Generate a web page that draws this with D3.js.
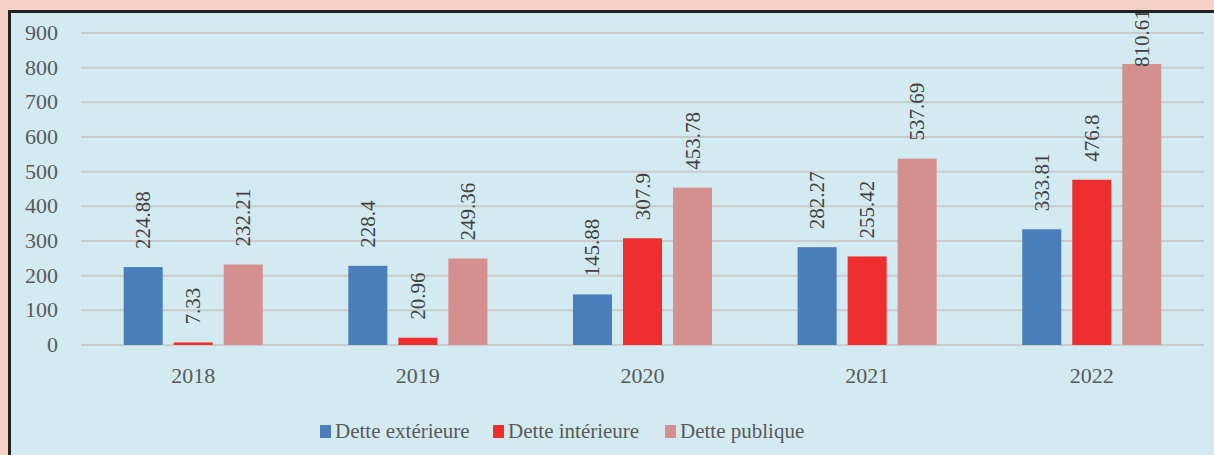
<!DOCTYPE html>
<meta charset="utf-8">

<head>
  <script src="https://d3js.org/d3.v7.min.js"></script>
  <style>
    body { margin: 0; background: #f5d0c4; }
    text { font-family: "Liberation Serif", "DejaVu Serif", serif; }
  </style>
</head>

<body>
  <svg id="root"></svg>

  <script>
    const years = ["2018", "2019", "2020", "2021", "2022"];
    const series = ["Dette extérieure", "Dette intérieure", "Dette publique"];
    const exterieure = [224.88, 228.4, 145.88, 282.27, 333.81];
    const interieure = [7.33, 20.96, 307.9, 255.42, 476.8];
    const publique = [232.21, 249.36, 453.78, 537.69, 810.61];
    const yTicks = [0, 100, 200, 300, 400, 500, 600, 700, 800, 900];
    const colors = ["#4a7ebb", "#ee2e2e", "#d48f8f"];

    const W = 1214, H = 455;
    const svg = d3.select("#root").attr("width", W).attr("height", H);

    // pink page + framed chart box
    svg.append("rect").attr("width", W).attr("height", H).attr("fill", "#f5d0c4");
    svg.append("clipPath").attr("id", "box")
      .append("rect").attr("x", 11).attr("y", 13).attr("width", W).attr("height", H);
    svg.append("rect")
      .attr("x", 11).attr("y", 13).attr("width", W).attr("height", H)
      .attr("fill", "#d2eaf0");

    const g = svg.append("g").attr("clip-path", "url(#box)");

    const yScale = d3.scaleLinear([0, 900], [345, 33]);
    const x0 = d3.scaleBand(years, [81, 1204]).paddingInner(0.381).paddingOuter(0.19);
    const x1 = d3.scaleBand(series, [0, x0.bandwidth()]).paddingInner(0.22);

    // grid lines
    g.append("g").selectAll("line")
      .data(yTicks)
      .join("line")
      .attr("x1", 81).attr("x2", 1204)
      .attr("y1", d => yScale(d)).attr("y2", d => yScale(d))
      .attr("stroke", "#c9cccd")
      .attr("stroke-width", 2);

    // y axis labels
    const yAxis = d3.axisLeft(yScale).tickValues(yTicks).tickSize(0).tickPadding(0);
    const ya = g.append("g").attr("transform", "translate(58,0)").call(yAxis);
    ya.select(".domain").remove();
    ya.selectAll("text")
      .attr("font-family", "Liberation Serif")
      .attr("font-size", 22)
      .attr("fill", "#595959")
      .attr("dy", "0.3em");

    // x axis labels
    const xAxis = d3.axisBottom(x0).tickSize(0).tickPadding(0);
    const xa = g.append("g").attr("transform", "translate(0,345)").call(xAxis);
    xa.select(".domain").remove();
    xa.selectAll("text")
      .attr("font-family", "Liberation Serif")
      .attr("font-size", 22)
      .attr("fill", "#595959")
      .attr("y", 38)
      .attr("dy", 0);

    const data = years.map((y, i) => ({
      year: y,
      values: [exterieure[i], interieure[i], publique[i]]
    }));

    const groups = g.append("g").selectAll("g")
      .data(data)
      .join("g")
      .attr("transform", d => `translate(${x0(d.year)},0)`);

    groups.selectAll("rect")
      .data(d => d.values.map((v, k) => ({ key: series[k], v: v, k: k })))
      .join("rect")
      .attr("x", d => x1(d.key))
      .attr("y", d => yScale(d.v))
      .attr("width", x1.bandwidth())
      .attr("height", d => yScale(0) - yScale(d.v))
      .attr("fill", d => colors[d.k]);

    // value labels, pushed down when they would run out of the top
    groups.selectAll("text")
      .data(d => d.values.map((v, k) => ({ key: series[k], v: v })))
      .join("text")
      .attr("transform", d => `translate(${x1(d.key) + x1.bandwidth() / 2 + 7},${Math.max(yScale(d.v) - 18, 67)}) rotate(-90)`)
      .attr("font-size", 21)
      .attr("fill", "#404040")
      .text(d => d.v);

    // legend
    const legendX = [320, 493, 665];
    const legend = g.append("g").selectAll("g")
      .data(series)
      .join("g")
      .attr("transform", (d, i) => `translate(${legendX[i]},425)`);
    legend.append("rect")
      .attr("width", 11).attr("height", 13)
      .attr("fill", (d, i) => colors[i]);
    legend.append("text")
      .attr("x", 15).attr("y", 13)
      .attr("font-size", 21)
      .attr("fill", "#595959")
      .text(d => d);

    // frame
    svg.append("rect")
      .attr("x", 9.5).attr("y", 11.5).attr("width", W).attr("height", H)
      .attr("fill", "none")
      .attr("stroke", "#222")
      .attr("stroke-width", 3);
  </script>
</body>
